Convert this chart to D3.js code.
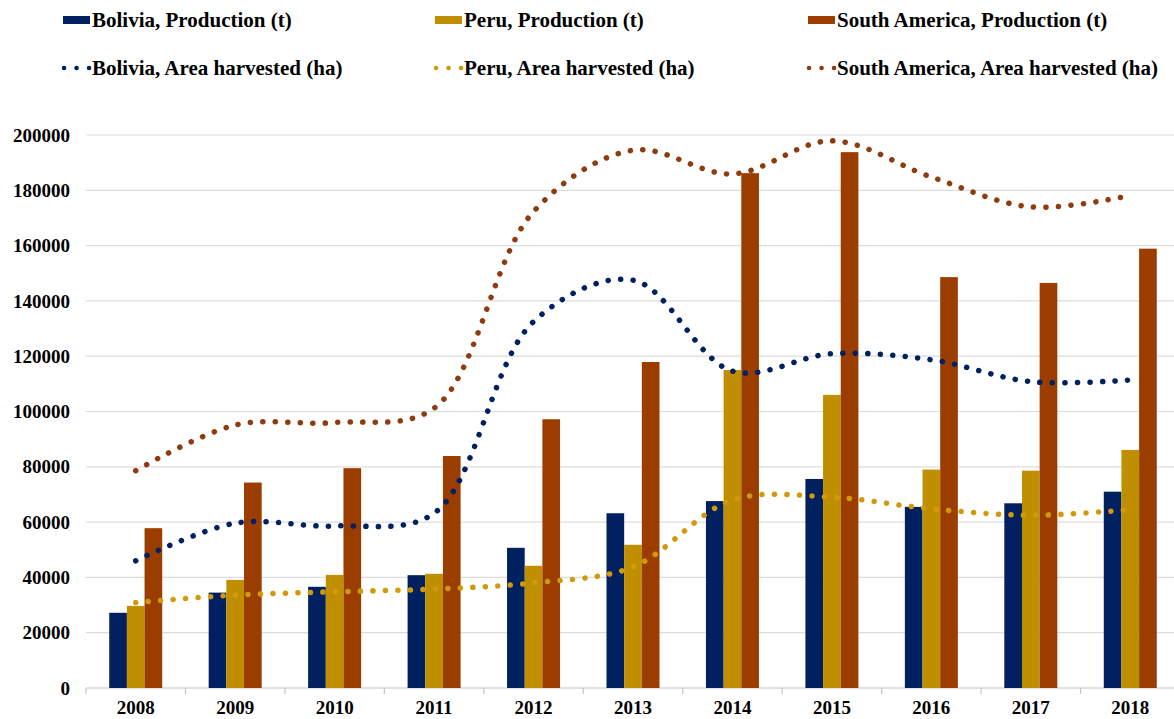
<!DOCTYPE html>
<html>
<head>
<meta charset="utf-8">
<script src="https://cdn.jsdelivr.net/npm/d3@7"></script>
<style>
  body { margin: 0; background: #fff; }
  svg { display: block; overflow: hidden; }
  text { font-family: 'Liberation Serif', 'Times New Roman', serif; font-weight: bold; fill: #000; }
</style>
</head>
<body>
<svg id="chart" width="1174" height="719"></svg>
<script>
// categories
var years = ['2008', '2009', '2010', '2011', '2012', '2013', '2014', '2015', '2016', '2017', '2018'];

// production (t) - bars
var boliviaProd = [27200, 34500, 36600, 40800, 50700, 63200, 67600, 75600, 65500, 66800, 71000];
var peruProd    = [29700, 39100, 40900, 41300, 44200, 51800, 115000, 106000, 79000, 78600, 86100];
var saProd      = [57800, 74300, 79500, 83900, 97200, 117900, 186200, 193800, 148600, 146500, 158900];

// area harvested (ha) - dotted lines
var boliviaArea = [46000, 59600, 58600, 63200, 132500, 147500, 114600, 120900, 118700, 110800, 111400];
var peruArea    = [30900, 33600, 34800, 35800, 38000, 43800, 68000, 69000, 64800, 62500, 64500];
var saArea      = [78600, 95100, 96000, 101200, 172300, 194500, 185900, 197900, 184800, 174000, 178100];

var yTicks = [0, 20000, 40000, 60000, 80000, 100000, 120000, 140000, 160000, 180000, 200000];

var barSeries = [
    {name: 'Bolivia, Production (t)', values: boliviaProd, color: '#002060'},
    {name: 'Peru, Production (t)', values: peruProd, color: '#BF8F00'},
    {name: 'South America, Production (t)', values: saProd, color: '#9C3D00'}
];
var lineSeries = [
    {name: 'Bolivia, Area harvested (ha)', values: boliviaArea, color: '#002060'},
    {name: 'Peru, Area harvested (ha)', values: peruArea, color: '#D09A0C'},
    {name: 'South America, Area harvested (ha)', values: saArea, color: '#8E3B10'}
];

function draw(){
    var svg = d3.select('#chart');
    var margin = {top: 135, left: 86, bottom: 31},
        plotW = 1094,
        plotH = 719 - margin.top - margin.bottom;

    var g = svg.append('g')
        .attr('transform', 'translate(' + margin.left + ',' + margin.top + ')');

    var x = d3.scaleBand().domain(years).range([0, plotW]).padding(0);
    var y = d3.scaleLinear().domain([0, 200000]).range([plotH, 0]);

    // gridlines
    g.append('g')
        .selectAll('line')
        .data(yTicks)
        .enter().append('line')
        .attr('x1', 0)
        .attr('x2', plotW)
        .attr('y1', function(d){ return y(d); })
        .attr('y2', function(d){ return y(d); })
        .style('stroke', function(d){ return d === 0 ? '#c4c4c4' : '#dcdcdc'; })
        .style('stroke-width', 1.2);

    // y axis labels
    g.append('g')
        .selectAll('text')
        .data(yTicks)
        .enter().append('text')
        .attr('x', -16)
        .attr('y', function(d){ return y(d); })
        .attr('dy', '0.35em')
        .attr('text-anchor', 'end')
        .style('font-size', '19px')
        .text(function(d){ return d; });

    // x axis tick marks (band boundaries)
    var xAxis = g.append('g')
        .attr('transform', 'translate(0,' + plotH + ')');
    xAxis.selectAll('line')
        .data(years.concat(['end']))
        .enter().append('line')
        .attr('x1', function(d, i){ return i * x.bandwidth(); })
        .attr('x2', function(d, i){ return i * x.bandwidth(); })
        .attr('y1', 0)
        .attr('y2', 6)
        .style('stroke', '#c4c4c4')
        .style('stroke-width', 1.2);
    xAxis.selectAll('text')
        .data(years)
        .enter().append('text')
        .attr('x', function(d){ return x(d) + x.bandwidth() / 2; })
        .attr('y', 26)
        .attr('text-anchor', 'middle')
        .style('font-size', '19px')
        .text(function(d){ return d; });

    // bars
    var groupW = 53;
    var x1 = d3.scaleBand().domain([0, 1, 2]).range([0, groupW]);
    barSeries.forEach(function(s, si){
        g.append('g')
            .selectAll('rect')
            .data(s.values)
            .enter().append('rect')
            .attr('x', function(d, i){ return x(years[i]) + (x.bandwidth() - groupW) / 2 + x1(si); })
            .attr('width', x1.bandwidth())
            .attr('y', function(d){ return y(d); })
            .attr('height', function(d){ return plotH - y(d); })
            .style('fill', s.color);
    });

    // smoothed dotted lines
    var line = d3.line()
        .x(function(d, i){ return x(years[i]) + x.bandwidth() / 2; })
        .y(function(d){ return y(d); })
        .curve(d3.curveCatmullRom.alpha(0.5));

    lineSeries.forEach(function(s){
        g.append('path')
            .datum(s.values)
            .attr('d', line)
            .style('fill', 'none')
            .style('stroke', s.color)
            .style('stroke-width', 5.5)
            .style('stroke-linecap', 'round')
            .style('stroke-dasharray', '0.1,12.4');
    });

    draw_legend(svg);
}

function draw_legend(svg){
    var colX = [63, 435, 808];
    var legend = svg.append('g');

    barSeries.forEach(function(s, i){
        var item = legend.append('g').attr('transform', 'translate(' + colX[i] + ',20)');
        item.append('rect')
            .attr('x', 0)
            .attr('y', -4)
            .attr('width', 27)
            .attr('height', 8)
            .style('fill', s.color);
        item.append('text')
            .attr('x', 29)
            .attr('dy', '0.35em')
            .style('font-size', '21px')
            .text(s.name);
    });

    lineSeries.forEach(function(s, i){
        var item = legend.append('g').attr('transform', 'translate(' + colX[i] + ',68)');
        item.append('line')
            .attr('x1', 1)
            .attr('x2', 27)
            .attr('y1', 0)
            .attr('y2', 0)
            .style('stroke', s.color)
            .style('stroke-width', 4.5)
            .style('stroke-linecap', 'round')
            .style('stroke-dasharray', '0.1,12.4');
        item.append('text')
            .attr('x', 29)
            .attr('dy', '0.35em')
            .style('font-size', '21px')
            .text(s.name);
    });
}

draw();
</script>
</body>
</html>
